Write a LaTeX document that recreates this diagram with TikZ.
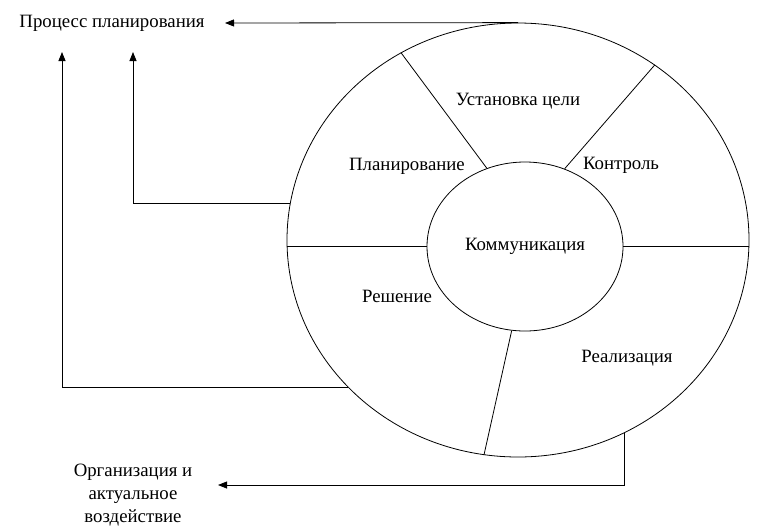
\documentclass[tikz,border=0pt]{standalone}
\usepackage{fontspec}
\setmainfont{Liberation Serif}
\usetikzlibrary{shapes.geometric,arrows.meta}

\begin{document}
\begin{tikzpicture}[x=1pt, y=-1pt, every node/.style={font=\fontsize{18.8}{23}\selectfont}, every path/.style={draw=black, line width=0.8pt},
	ring/.style={ellipse, draw=black, inner sep=0pt},
	txt/.style={inner sep=0pt, align=center},
	arr/.style={-{Triangle[length=9pt, width=7pt]}}]
			\useasboundingbox[draw=none] (0,0) rectangle (762,525);
			\node[ring, minimum width=462, minimum height=434] (outer) at (518,240){};
			\node[ring, minimum width=196, minimum height=169] (inner) at (525,246.5){};
			\node[txt] (comm) at (525,246){Коммуникация};
			\node[txt] (goal) at (518,101){Установка цели};
			\node[txt] (planning) at (407,166){Планирование};
			\node[txt] (control) at (621,165){Контроль};
			\node[txt] (decision) at (397,296){Решение};
			\node[txt] (real) at (627,358){Реализация};
			\node[txt] (plan) at (112,23){Процесс планирования};
			\node[txt] (org) at (133,495){Организация и\\актуальное\\воздействие};
			\coordinate (tipTop) at (225,23);
			\coordinate (tipA) at (62,52);
			\coordinate (tipB) at (133,52);
			\coordinate (tipC) at (218,485);
			
			\path (inner.116) edge (outer.122);
			\path (inner.63.6) edge (outer.52.4);
			\path (inner.261) edge (outer.261);
			\path (inner.west) edge (inner.west -| outer.west);
			\path (inner.east) edge (inner.east -| outer.east);
			
			\draw[arr] (outer.north) -- (tipTop);
			\draw[arr] (outer.171.5) -| (tipB);
			\draw[arr] (outer.221) -| (tipA);
			\draw[arr] (outer.299) |- (tipC);
			\end{tikzpicture}
\end{document}
